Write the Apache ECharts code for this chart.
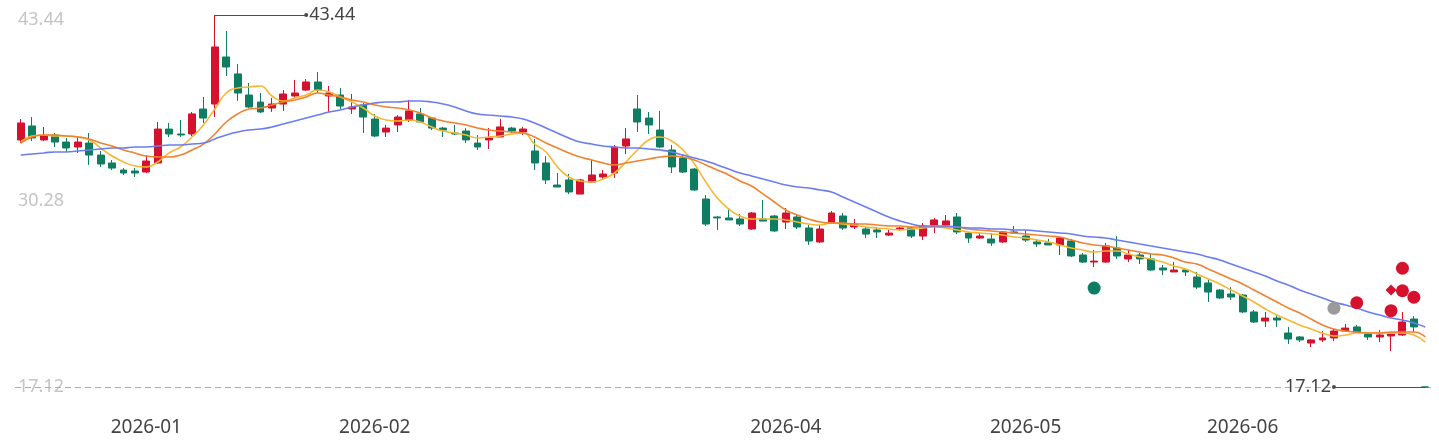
<!DOCTYPE html>
<html>
<head>
<meta charset="utf-8">
<script src="https://cdn.jsdelivr.net/npm/echarts@6/dist/echarts.min.js"></script>
<style>
html,body{margin:0;padding:0;background:#fff;}
#chart{width:1439px;height:448px;}
</style>
</head>
<body>
<div id="chart"></div>
<script>
const categories = [
'2025-12-17','2025-12-18','2025-12-19','2025-12-22','2025-12-23','2025-12-24','2025-12-25','2025-12-26','2025-12-29','2025-12-30','2025-12-31',
'2026-01-05','2026-01-06','2026-01-07','2026-01-08','2026-01-09','2026-01-12','2026-01-13','2026-01-14','2026-01-15','2026-01-16',
'2026-01-19','2026-01-20','2026-01-21','2026-01-22','2026-01-23','2026-01-26','2026-01-27','2026-01-28','2026-01-29','2026-01-30',
'2026-02-02','2026-02-03','2026-02-04','2026-02-05','2026-02-06','2026-02-09','2026-02-10','2026-02-11','2026-02-12','2026-02-13',
'2026-02-24','2026-02-25','2026-02-26','2026-02-27',
'2026-03-02','2026-03-03','2026-03-04','2026-03-05','2026-03-06','2026-03-09','2026-03-10','2026-03-11','2026-03-12','2026-03-13',
'2026-03-16','2026-03-17','2026-03-18','2026-03-19','2026-03-20','2026-03-23','2026-03-24','2026-03-25','2026-03-26','2026-03-27',
'2026-03-30','2026-03-31',
'2026-04-01','2026-04-02','2026-04-03','2026-04-07','2026-04-08','2026-04-09','2026-04-10','2026-04-13','2026-04-14','2026-04-15',
'2026-04-16','2026-04-17','2026-04-20','2026-04-21','2026-04-22','2026-04-23','2026-04-24','2026-04-27','2026-04-28','2026-04-29','2026-04-30',
'2026-05-05','2026-05-06','2026-05-07','2026-05-08','2026-05-11','2026-05-12','2026-05-13','2026-05-14','2026-05-15','2026-05-18',
'2026-05-19','2026-05-20','2026-05-21','2026-05-22','2026-05-25','2026-05-26','2026-05-27','2026-05-28','2026-05-29',
'2026-06-01','2026-06-02','2026-06-03','2026-06-04','2026-06-05','2026-06-08','2026-06-09','2026-06-10','2026-06-11','2026-06-12',
'2026-06-15','2026-06-16','2026-06-17','2026-06-18','2026-06-22','2026-06-23','2026-06-24'
];

const xTickLabels = ['2026-01-05','2026-02-02','2026-04-01','2026-05-05','2026-06-01'];
const yTickValues = [17.12, 30.28, 43.44];

const openPrices = [
34.60,35.59,34.60,34.95,34.45,34.10,34.38,33.53,32.97,32.47,32.40,32.33,32.97,35.37,35.02,35.02,36.79,37.14,40.47,39.27,
37.78,37.28,36.86,37.14,37.71,38.13,38.70,37.71,37.78,36.79,37.07,36.08,35.16,35.66,36.01,36.44,36.15,35.44,35.09,35.23,
34.38,34.60,34.81,35.44,35.16,33.82,32.97,31.41,31.77,30.77,31.62,31.98,32.26,34.17,36.79,36.15,35.30,33.89,33.32,32.54,
30.42,29.15,29.08,29.01,28.30,29.01,29.22,28.79,29.15,28.37,27.38,28.72,29.22,28.44,28.30,28.23,27.87,28.30,28.37,27.80,
28.58,28.58,29.15,28.01,27.66,27.59,27.38,28.09,27.80,27.38,27.31,27.17,27.45,26.46,25.96,25.96,26.95,26.18,26.46,26.18,
25.54,25.26,25.40,24.90,24.48,23.98,23.70,23.63,22.43,21.79,22.00,20.94,20.66,20.23,20.45,20.59,21.08,21.37,20.87,20.66,
20.73,20.80,21.93,17.12
];
const closePrices = [
35.80,34.74,34.88,34.45,34.03,34.45,33.53,32.90,32.61,32.26,32.26,33.11,35.37,35.02,34.95,36.44,36.15,41.18,39.76,37.92,
36.93,36.58,37.14,37.85,37.92,38.70,38.13,37.92,37.00,36.93,36.22,34.88,35.44,36.22,36.65,35.87,35.44,35.30,35.02,34.60,
34.10,34.74,35.52,35.23,35.37,32.97,31.77,31.27,30.92,31.77,32.12,32.19,34.10,34.67,35.87,35.66,34.10,32.69,32.33,31.06,
28.65,29.08,28.94,28.65,29.43,28.86,28.16,29.43,28.44,27.45,28.30,29.43,28.37,28.65,27.94,28.09,28.01,28.37,27.80,28.51,
28.94,28.87,28.09,27.66,27.80,27.31,28.09,28.01,27.52,27.24,27.17,27.66,26.39,25.96,26.03,27.10,26.39,26.46,26.18,25.40,
25.40,25.40,25.26,24.19,23.84,23.42,23.49,22.43,21.72,22.00,21.86,20.52,20.45,20.45,20.59,21.08,21.29,21.01,20.66,20.80,
20.87,21.72,21.37,17.12
];
const lowPrices = [
34.38,34.52,34.52,34.10,33.75,33.68,32.83,32.69,32.47,32.12,31.98,32.26,32.90,34.81,34.81,34.88,35.80,36.22,39.12,37.36,
36.86,36.51,36.58,36.65,37.64,38.06,37.92,36.58,36.79,36.44,35.09,34.81,34.81,35.16,35.87,35.80,35.30,34.81,34.95,34.38,
33.89,33.96,34.81,35.09,34.95,32.47,31.48,31.27,30.77,30.77,31.55,31.84,31.91,33.60,35.16,35.02,34.03,32.26,32.26,30.99,
28.51,28.23,28.94,28.51,28.23,28.86,28.09,28.30,28.30,27.17,27.31,28.65,28.23,28.30,27.66,27.66,27.80,28.16,27.66,27.52,
28.01,28.44,27.94,27.31,27.59,27.10,27.31,28.01,27.38,27.03,27.17,26.46,26.32,25.89,25.61,25.89,26.18,25.96,25.82,25.33,
25.04,25.26,24.97,24.05,23.13,23.35,23.27,22.36,21.65,21.37,21.37,20.16,20.30,19.95,20.30,20.37,21.01,20.94,20.45,20.30,
19.67,20.73,21.01,17.12
];
const highPrices = [
36.08,36.22,35.52,35.09,34.74,34.81,35.09,33.82,33.18,32.61,32.61,33.53,35.87,35.80,36.01,36.58,37.64,43.44,42.31,39.97,
38.63,37.92,37.57,38.13,38.84,38.91,39.41,38.42,38.27,37.85,37.21,36.44,35.66,36.36,37.43,36.86,36.22,35.52,35.66,35.44,
34.95,35.44,36.08,35.52,35.52,34.67,33.46,32.26,32.19,31.84,33.18,32.47,34.24,35.44,37.78,36.58,36.65,34.24,33.53,32.61,
30.70,29.22,29.78,29.36,29.50,30.35,29.29,29.78,29.36,28.58,28.58,29.57,29.43,29.01,28.44,28.44,28.23,28.44,28.44,28.72,
29.08,29.29,29.43,28.09,28.01,28.01,28.16,28.51,28.23,27.59,27.59,27.73,27.59,26.60,26.81,27.31,27.80,26.81,26.60,26.60,
25.75,25.96,25.47,25.26,24.76,24.05,24.19,23.70,22.57,22.43,22.21,21.37,20.73,20.52,21.08,21.22,21.58,21.51,20.94,21.15,
20.87,22.43,22.14,17.12
];

const ma5 = [
34.45,34.88,34.95,34.88,34.88,34.81,34.60,34.03,33.46,33.04,32.76,32.69,33.04,33.68,34.10,34.81,35.66,36.79,37.92,38.27,
38.35,38.42,37.71,37.35,37.57,37.78,38.13,37.99,37.64,37.28,36.86,36.29,36.01,35.94,36.01,35.87,35.52,35.23,35.09,34.95,
34.74,34.81,34.88,35.02,35.09,34.31,33.75,32.69,31.98,31.69,31.62,31.84,32.26,33.04,33.89,34.60,34.81,34.53,33.89,32.90,
31.62,30.49,29.71,29.22,29.01,29.01,29.01,28.94,28.79,28.65,28.58,28.72,28.65,28.58,28.44,28.37,28.30,28.23,28.30,28.37,
28.51,28.37,28.23,28.09,28.02,27.95,27.87,27.73,27.66,27.52,27.38,27.17,26.95,26.81,26.67,26.74,26.74,26.53,26.32,26.18,
25.96,25.68,25.47,25.12,24.76,24.41,23.98,23.56,23.13,22.64,22.21,21.86,21.51,21.22,20.94,20.73,20.80,20.94,20.94,20.94,
20.94,20.94,20.80,20.30
];
const ma10 = [
34.38,34.81,34.95,34.95,34.88,34.81,34.67,34.38,34.17,33.89,33.68,33.46,33.39,33.39,33.53,33.89,34.31,35.02,35.87,36.44,
36.79,36.86,37.07,37.28,37.43,37.64,37.92,37.78,37.64,37.43,37.28,37.07,36.93,36.86,36.72,36.51,36.15,35.94,35.80,35.66,
35.45,35.30,35.23,35.16,35.09,34.81,34.38,34.03,33.68,33.39,33.18,32.97,32.83,32.97,33.11,33.25,33.39,33.46,33.39,33.18,
32.83,32.47,32.12,31.69,31.34,30.78,30.21,29.64,29.29,29.01,28.79,28.72,28.72,28.65,28.65,28.58,28.51,28.51,28.44,28.44,
28.44,28.44,28.44,28.30,28.23,28.16,28.09,28.02,27.95,27.87,27.80,27.73,27.52,27.31,27.17,27.10,26.95,26.81,26.67,26.53,
26.46,26.25,25.96,25.82,25.47,25.12,24.76,24.41,23.98,23.56,23.13,22.71,22.36,21.93,21.51,21.22,21.08,21.01,20.94,20.94,
21.01,21.01,21.01,20.66
];
const ma20 = [
33.53,33.61,33.68,33.75,33.75,33.82,33.89,33.96,34.03,34.03,34.10,34.10,34.17,34.24,34.24,34.31,34.38,34.67,34.95,35.16,
35.30,35.37,35.52,35.73,35.94,36.15,36.36,36.58,36.72,36.93,37.07,37.21,37.28,37.28,37.35,37.35,37.28,37.14,36.93,36.65,
36.44,36.36,36.29,36.22,36.08,35.80,35.45,35.09,34.74,34.45,34.31,34.17,34.10,34.03,34.03,33.96,33.89,33.75,33.53,33.32,
33.11,32.83,32.54,32.26,32.05,31.84,31.62,31.41,31.27,31.20,31.06,30.92,30.56,30.21,29.86,29.50,29.15,28.87,28.65,28.51,
28.51,28.51,28.44,28.37,28.37,28.30,28.30,28.23,28.23,28.16,28.09,28.02,27.95,27.80,27.73,27.66,27.52,27.38,27.24,27.10,
26.95,26.81,26.67,26.53,26.32,26.11,25.82,25.54,25.26,24.97,24.62,24.34,23.98,23.70,23.42,23.13,22.92,22.71,22.43,22.21,
22.00,21.86,21.65,21.37
];

const redSignals = [[117, 23.08], [120, 22.52], [121, 25.52], [121, 23.93], [122, 23.47]];
const redDiamondSignals = [[120, 23.98]];
const greenSignals = [[94, 24.12]];
const graySignals = [[115, 22.69]];

const UP = '#d6112d';
const DOWN = '#0f7d61';
const LABEL_FONT = 'Noto Sans';

const candleData = categories.map((_, i) => [openPrices[i], closePrices[i], lowPrices[i], highPrices[i]]);
const yMin = yTickValues[0];
const yMax = yTickValues[yTickValues.length - 1];
let maxIdx = 0, minIdx = 0;
highPrices.forEach((v, i) => { if (v > highPrices[maxIdx]) maxIdx = i; });
lowPrices.forEach((v, i) => { if (v < lowPrices[minIdx]) minIdx = i; });
const maxVal = highPrices[maxIdx];
const minVal = lowPrices[minIdx];

const extremeLine = { color: '#4d4d4d', type: 'solid', width: 1.2 };

const chart = echarts.init(document.getElementById('chart'));
chart.setOption({
  animation: false,
  backgroundColor: '#fff',
  grid: { left: 15, right: 8, top: 15, bottom: 61 },
  xAxis: {
    type: 'category',
    data: categories,
    boundaryGap: true,
    axisLine: { show: false },
    axisTick: { show: false },
    splitLine: { show: false },
    axisLabel: {
      interval: (idx, val) => xTickLabels.indexOf(val) >= 0,
      formatter: (val) => val.slice(0, 7),
      color: '#444',
      fontSize: 19,
      fontFamily: LABEL_FONT,
      margin: 31
    }
  },
  yAxis: {
    type: 'value',
    min: yMin,
    max: yMax,
    splitLine: { show: false },
    axisLine: { show: false },
    axisTick: { show: false },
    axisLabel: {
      inside: true,
      margin: 3,
      customValues: yTickValues,
      color: '#c4c4c4',
      fontSize: 18,
      fontFamily: LABEL_FONT,
      formatter: (v) => v >= yMax - 1e-6 ? '{top|' + v.toFixed(2) + '}' : v.toFixed(2),
      rich: {
        top: { padding: [9, 0, 0, 0], color: '#c4c4c4', fontSize: 18, fontFamily: LABEL_FONT }
      }
    }
  },
  series: [
    {
      name: 'K',
      type: 'candlestick',
      data: candleData,
      barWidth: '65%',
      clip: false,
      itemStyle: { color: UP, color0: DOWN, borderColor: UP, borderColor0: DOWN, borderWidth: 1 },
      markLine: {
        silent: true,
        animation: false,
        symbol: ['none', 'none'],
        label: { show: false },
        lineStyle: { color: '#ee8e94', type: [6, 4], width: 1 },
        data: [{ yAxis: minVal }],
        z: 1
      }
    },
    {
      name: 'MA5', type: 'line', data: ma5, smooth: true, symbol: 'none',
      lineStyle: { color: '#f7b733', width: 1.6 }, z: 3
    },
    {
      name: 'MA10', type: 'line', data: ma10, smooth: true, symbol: 'none',
      lineStyle: { color: '#f2812f', width: 1.6 }, z: 3
    },
    {
      name: 'MA20', type: 'line', data: ma20, smooth: true, symbol: 'none',
      lineStyle: { color: '#6a7df0', width: 1.6 }, z: 3
    },
    {
      name: 'buy', type: 'scatter', data: redSignals, symbol: 'circle', symbolSize: 13,
      itemStyle: { color: UP, opacity: 1 }, z: 4
    },
    {
      name: 'buy2', type: 'scatter', data: redDiamondSignals, symbol: 'diamond', symbolSize: 11,
      itemStyle: { color: UP, opacity: 1 }, z: 4
    },
    {
      name: 'sell', type: 'scatter', data: greenSignals, symbol: 'circle', symbolSize: 13,
      itemStyle: { color: DOWN, opacity: 1 }, z: 4
    },
    {
      name: 'neutral', type: 'scatter', data: graySignals, symbol: 'circle', symbolSize: 13,
      clip: false,
      itemStyle: { color: '#9a9a9a', opacity: 1 }, z: 4,
      markLine: {
        silent: true,
        animation: false,
        z: 6,
        symbol: ['none', 'circle'],
        symbolSize: 4,
        lineStyle: extremeLine,
        itemStyle: { color: '#4d4d4d' },
        label: {
          show: true, position: 'end', distance: 3, color: '#444', fontSize: 18, fontFamily: LABEL_FONT,
          formatter: (p) => Number(p.value).toFixed(2)
        },
        data: [
          [
            { coord: [maxIdx, maxVal], value: maxVal, lineStyle: extremeLine },
            { coord: [maxIdx + 7.5, maxVal], value: maxVal }
          ],
          [
            { coord: [minIdx, minVal], value: minVal, lineStyle: extremeLine },
            { coord: [minIdx - 8, minVal], value: minVal }
          ]
        ]
      }
    }
  ]
});
</script>
</body>
</html>
